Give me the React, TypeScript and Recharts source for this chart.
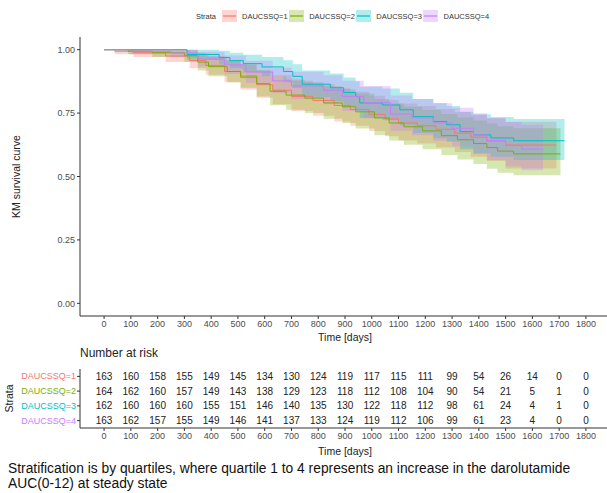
import React from 'react';
import {
  ComposedChart,
  Line,
  Area,
  Scatter,
  XAxis,
  YAxis,
} from 'recharts';

// Kaplan–Meier estimates per stratum: event time (days), survival, lower / upper 95% CI
const g1Time = [0, 40, 110, 230, 320, 380, 450, 510, 570, 630, 700, 780, 860, 920, 990, 1050, 1100, 1170, 1240, 1310, 1370, 1430, 1500, 1690];
const g1Surv = [1, 0.994, 0.988, 0.975, 0.957, 0.938, 0.914, 0.89, 0.862, 0.84, 0.816, 0.8, 0.78, 0.764, 0.745, 0.727, 0.711, 0.7, 0.686, 0.671, 0.655, 0.64, 0.624, 0.624];
const g1Lo = [1, 0.982, 0.971, 0.951, 0.927, 0.901, 0.872, 0.843, 0.81, 0.785, 0.758, 0.74, 0.717, 0.7, 0.679, 0.659, 0.642, 0.63, 0.614, 0.597, 0.578, 0.561, 0.532, 0.532];
const g1Hi = [1, 1, 1, 0.999, 0.988, 0.975, 0.958, 0.939, 0.917, 0.899, 0.878, 0.865, 0.848, 0.834, 0.818, 0.802, 0.788, 0.778, 0.766, 0.754, 0.742, 0.73, 0.716, 0.716];

const g2Time = [0, 90, 180, 300, 350, 390, 460, 510, 570, 620, 680, 750, 820, 890, 940, 1010, 1065, 1120, 1190, 1260, 1320, 1380, 1430, 1470, 1530, 1705];
const g2Surv = [1, 0.994, 0.988, 0.976, 0.951, 0.933, 0.914, 0.896, 0.866, 0.836, 0.821, 0.809, 0.79, 0.775, 0.755, 0.731, 0.711, 0.696, 0.68, 0.661, 0.645, 0.63, 0.614, 0.6, 0.589, 0.589];
const g2Lo = [1, 0.982, 0.971, 0.952, 0.918, 0.895, 0.872, 0.85, 0.815, 0.781, 0.763, 0.75, 0.728, 0.711, 0.689, 0.663, 0.642, 0.625, 0.607, 0.585, 0.567, 0.549, 0.531, 0.515, 0.505, 0.505];
const g2Hi = [1, 1, 1, 0.999, 0.985, 0.972, 0.958, 0.944, 0.92, 0.895, 0.882, 0.872, 0.856, 0.844, 0.827, 0.806, 0.788, 0.775, 0.762, 0.746, 0.733, 0.721, 0.709, 0.698, 0.69, 0.69];

const g3Time = [0, 310, 430, 470, 520, 590, 670, 705, 740, 845, 895, 940, 955, 1040, 1105, 1155, 1230, 1280, 1330, 1380, 1445, 1530, 1720];
const g3Surv = [1, 0.981, 0.969, 0.957, 0.945, 0.932, 0.914, 0.895, 0.864, 0.85, 0.831, 0.815, 0.79, 0.782, 0.763, 0.736, 0.717, 0.704, 0.677, 0.664, 0.652, 0.641, 0.641];
const g3Lo = [1, 0.96, 0.943, 0.927, 0.911, 0.895, 0.872, 0.849, 0.813, 0.797, 0.776, 0.758, 0.731, 0.722, 0.701, 0.672, 0.651, 0.637, 0.607, 0.592, 0.578, 0.565, 0.565];
const g3Hi = [1, 1, 0.996, 0.988, 0.98, 0.971, 0.958, 0.943, 0.918, 0.906, 0.89, 0.876, 0.854, 0.847, 0.83, 0.806, 0.79, 0.778, 0.755, 0.745, 0.735, 0.727, 0.727];

const g4Time = [0, 100, 250, 350, 450, 530, 630, 700, 820, 890, 970, 1070, 1150, 1230, 1300, 1380, 1430, 1500, 1560, 1640];
const g4Surv = [1, 0.994, 0.987, 0.963, 0.94, 0.912, 0.877, 0.857, 0.84, 0.816, 0.791, 0.746, 0.731, 0.711, 0.69, 0.664, 0.642, 0.622, 0.608, 0.608];
const g4Lo = [1, 0.982, 0.969, 0.934, 0.904, 0.869, 0.828, 0.805, 0.785, 0.758, 0.73, 0.68, 0.663, 0.641, 0.618, 0.589, 0.565, 0.54, 0.525, 0.525];
const g4Hi = [1, 1, 1, 0.992, 0.977, 0.956, 0.929, 0.913, 0.899, 0.878, 0.857, 0.819, 0.806, 0.789, 0.771, 0.749, 0.73, 0.715, 0.704, 0.704];

// Strata names, colours and numbers at risk
const strataNames = ['DAUCSSQ=1', 'DAUCSSQ=2', 'DAUCSSQ=3', 'DAUCSSQ=4'];
const strataColors = ['#F8766D', '#7CAE00', '#00BFC4', '#C77CFF'];
const riskTimes = [0, 100, 200, 300, 400, 500, 600, 700, 800, 900, 1000, 1100, 1200, 1300, 1400, 1500, 1600, 1700, 1800];
const risk1 = [163, 160, 158, 155, 149, 145, 134, 130, 124, 119, 117, 115, 111, 99, 54, 26, 14, 0, 0];
const risk2 = [164, 162, 160, 157, 149, 143, 138, 129, 123, 118, 112, 108, 104, 90, 54, 21, 5, 1, 0];
const risk3 = [162, 160, 160, 160, 155, 151, 146, 140, 135, 130, 122, 118, 112, 98, 61, 24, 4, 1, 0];
const risk4 = [163, 162, 157, 155, 149, 146, 141, 137, 133, 124, 119, 112, 106, 99, 61, 23, 4, 0, 0];

const yTicks = [0, 0.25, 0.5, 0.75, 1];

const groups = [
  { time: g1Time, surv: g1Surv, lo: g1Lo, hi: g1Hi },
  { time: g2Time, surv: g2Surv, lo: g2Lo, hi: g2Hi },
  { time: g3Time, surv: g3Surv, lo: g3Lo, hi: g3Hi },
  { time: g4Time, surv: g4Surv, lo: g4Lo, hi: g4Hi },
].map((g) => g.time.map((t, i) => ({ t, s: g.surv[i], band: [g.lo[i], g.hi[i]] })));

const riskRows = [risk1, risk2, risk3, risk4].map((row, gi) =>
  row.map((n, i) => ({ t: riskTimes[i], row: gi + 1, n }))
);

const FONT = '"Liberation Sans", Arial, sans-serif';
const AXIS = '#333333';
const TICK_TEXT = '#4D4D4D';
const X_DOMAIN: [number, number] = [-90, 1890];

const RiskTick = (props: any) => {
  const { x, y, payload } = props;
  const idx = payload.value - 1;
  return (
    <text x={x} y={y} dy={3} textAnchor="end" fontSize={9} fontFamily={FONT} fill={strataColors[idx]}>
      {strataNames[idx]}
    </text>
  );
};

const RiskCell = (props: any) => {
  const { cx, cy, payload } = props;
  return (
    <text x={cx} y={cy} dy={3.5} textAnchor="middle" fontSize={10} fontFamily={FONT} fill="#222">
      {payload.n}
    </text>
  );
};

const LegendBox = () => (
  <div
    style={{
      position: 'absolute',
      left: 196,
      top: 10,
      display: 'flex',
      alignItems: 'center',
      fontFamily: FONT,
      fontSize: 7.5,
      color: '#333',
    }}
  >
    <span style={{ marginRight: 6 }}>Strata</span>
    {strataNames.map((name, i) => (
      <span key={name} style={{ display: 'flex', alignItems: 'center', marginRight: 1.5 }}>
        <svg width={15} height={12} style={{ marginRight: 5 }}>
          <rect x={0} y={0} width={15} height={12} fill={strataColors[i]} fillOpacity={0.3} />
          <line x1={1} x2={14} y1={6} y2={6} stroke={strataColors[i]} strokeWidth={1.2} />
        </svg>
        {name}
      </span>
    ))}
  </div>
);

export default function App() {
  return (
    <div style={{ position: 'absolute', left: 0, top: 0, width: 607, height: 493, overflow: 'hidden', background: '#fff' }}>
      <LegendBox />
      <div style={{ position: 'absolute', left: 0, top: 0 }}>
        <ComposedChart width={620} height={348} margin={{ top: 37, right: 10, bottom: 0, left: 0 }}>
          <XAxis
            dataKey="t"
            type="number"
            domain={X_DOMAIN}
            allowDataOverflow
            ticks={riskTimes}
            interval={0}
            stroke={AXIS}
            tickSize={3}
            tickMargin={2}
            tick={{ fontSize: 9, fill: TICK_TEXT, fontFamily: FONT }}
            height={32}
            label={{ value: 'Time [days]', position: 'insideBottom', offset: 7, fontSize: 10.5, fill: '#222', fontFamily: FONT }}
          />
          <YAxis
            type="number"
            domain={[-0.05, 1.05]}
            allowDataOverflow
            ticks={yTicks}
            tickFormatter={(v: number) => v.toFixed(2)}
            stroke={AXIS}
            tickSize={3}
            tickMargin={2}
            width={80}
            tick={{ fontSize: 9, fill: TICK_TEXT, fontFamily: FONT }}
            label={{ value: 'KM survival curve', angle: -90, position: 'insideLeft', offset: 16, fontSize: 10.5, fill: '#222', fontFamily: FONT, style: { textAnchor: 'middle' } }}
          />
          {groups.map((data, i) => (
            <Area
              key={'band' + i}
              data={data}
              dataKey="band"
              type="stepAfter"
              stroke="none"
              fill={strataColors[i]}
              fillOpacity={0.3}
              isAnimationActive={false}
              activeDot={false}
            />
          ))}
          {groups.map((data, i) => (
            <Line
              key={'surv' + i}
              data={data}
              dataKey="s"
              type="stepAfter"
              stroke={strataColors[i]}
              strokeWidth={1}
              dot={false}
              activeDot={false}
              isAnimationActive={false}
            />
          ))}
        </ComposedChart>
      </div>

      <div style={{ position: 'absolute', left: 80, top: 346, fontFamily: FONT, fontSize: 12, color: '#222' }}>
        Number at risk
      </div>

      <div style={{ position: 'absolute', left: 0, top: 364 }}>
        <ComposedChart width={620} height={94} margin={{ top: 5, right: 10, bottom: 0, left: 0 }}>
          <XAxis
            dataKey="t"
            type="number"
            domain={X_DOMAIN}
            allowDataOverflow
            ticks={riskTimes}
            interval={0}
            stroke={AXIS}
            tickSize={3}
            tickMargin={2}
            tick={{ fontSize: 9, fill: TICK_TEXT, fontFamily: FONT }}
            height={30}
            label={{ value: 'Time [days]', position: 'insideBottom', offset: 3, fontSize: 10.5, fill: '#222', fontFamily: FONT }}
          />
          <YAxis
            dataKey="row"
            type="number"
            domain={[0.5, 4.5]}
            reversed
            ticks={[1, 2, 3, 4]}
            interval={0}
            stroke={AXIS}
            tickSize={3}
            tickMargin={1}
            width={80}
            tick={<RiskTick />}
            label={{ value: 'Strata', angle: -90, position: 'insideLeft', offset: 9, fontSize: 10.5, fill: '#222', fontFamily: FONT, style: { textAnchor: 'middle' } }}
          />
          {riskRows.map((data, i) => (
            <Scatter key={'risk' + i} data={data} dataKey="row" shape={<RiskCell />} isAnimationActive={false} />
          ))}
        </ComposedChart>
      </div>

      <div
        style={{
          position: 'absolute',
          left: 8,
          top: 461,
          width: 598,
          fontFamily: FONT,
          fontSize: 13.8,
          lineHeight: '15px',
          color: '#111',
        }}
      >
        Stratification is by quartiles, where quartile 1 to 4 represents an increase in the darolutamide AUC(0-12) at steady state
      </div>
    </div>
  );
}
